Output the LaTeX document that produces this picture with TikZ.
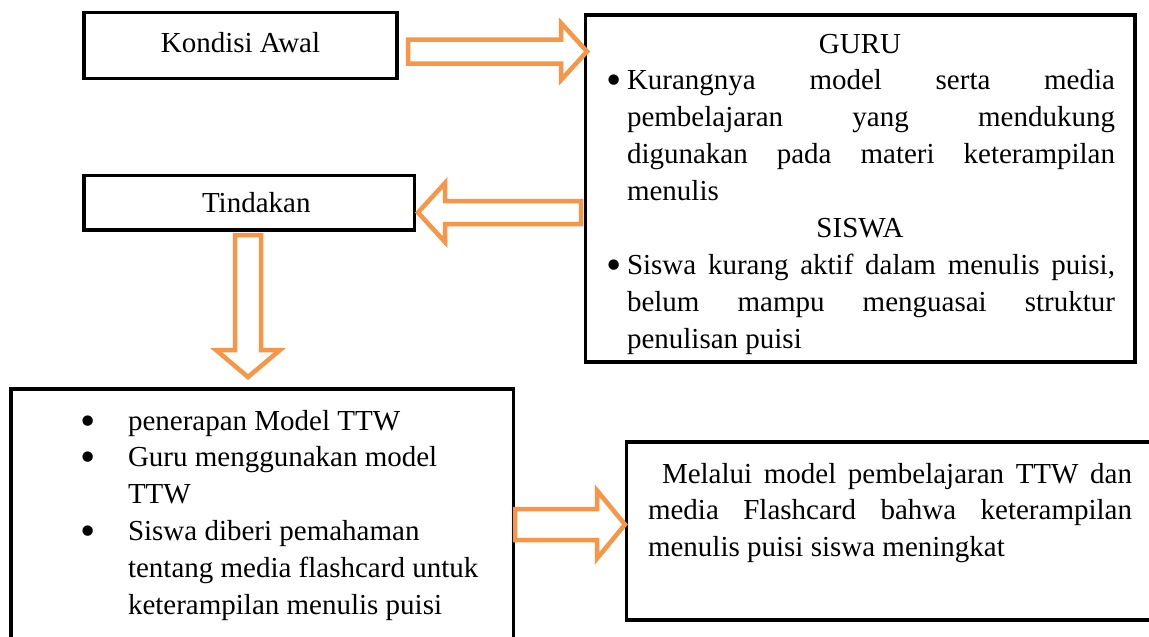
\documentclass[tikz,border=0pt]{standalone}
\usepackage{fontspec}
\setmainfont{Liberation Serif}
\usetikzlibrary{calc}
\definecolor{arroworange}{HTML}{F79646}
\newcommand\bigbul{\raisebox{-5pt}[0pt][0pt]{\scalebox{1.5}{\textbullet}}}
\tikzset{
  x=1pt, y=-1pt,
  box/.style={draw=black, line width=3.5pt, rectangle, inner sep=0pt, outer sep=0pt,
    anchor=north west, font=\fontsize{29}{36.9}\selectfont},
  txt/.style={inner sep=0pt, outer sep=0pt, anchor=north west, align=left,
    font=\fontsize{29}{36.9}\selectfont},
  barrow/.style={draw=arroworange, line width=4.5pt, fill=white, line join=miter, miter limit=10},
}
% block arrow: #1 tail, #2 tip, #3 shaft half width, #4 head half width, #5 head length
\newcommand\blockarrow[5]{%
  \path[barrow] let \p1=(#1), \p2=(#2),
      \n1={veclen(\x2-\x1,\y2-\y1)},
      \n2={(\x2-\x1)/\n1}, \n3={(\y2-\y1)/\n1}, \n4={\n1-#5pt} in
    ({\x1-#3pt*\n3},{\y1+#3pt*\n2})
    -- ({\x1+\n4*\n2-#3pt*\n3},{\y1+\n4*\n3+#3pt*\n2})
    -- ({\x1+\n4*\n2-#4pt*\n3},{\y1+\n4*\n3+#4pt*\n2})
    -- (\x2,\y2)
    -- ({\x1+\n4*\n2+#4pt*\n3},{\y1+\n4*\n3-#4pt*\n2})
    -- ({\x1+\n4*\n2+#3pt*\n3},{\y1+\n4*\n3-#3pt*\n2})
    -- ({\x1+#3pt*\n3},{\y1-#3pt*\n2})
    -- cycle;}
\begin{document}
\begin{tikzpicture}
\useasboundingbox (0,0) rectangle (1149,637);

% boxes
\node[box, minimum width=313pt, minimum height=66pt, text height=20pt, text depth=7pt]
  (kondisi) at (84,12.5) {Kondisi Awal};
\node[box, minimum width=330.5pt, minimum height=54.5pt, text height=21pt, text depth=1pt]
  (tindakan) at (84,175.5) {\hspace*{14pt}Tindakan};
\node[box, minimum width=549.5pt, minimum height=347pt] (guru) at (585.5,15) {};
\node[box, minimum width=502.5pt, minimum height=300pt] (aksi) at (11,389) {};
\node[box, minimum width=540pt, minimum height=178pt] (hasil) at (626.5,442) {};

% texts of the large boxes
\node[txt] (gurutext) at (603,28) {%
  \makebox[514pt][c]{\rule{0pt}{25pt}GURU}\\
  \makebox[24pt][l]{\hspace{3pt}\bigbul}\makebox[488pt][s]{Kurangnya model serta media}\\
  \hspace*{24pt}\makebox[488pt][s]{pembelajaran yang mendukung}\\
  \hspace*{24pt}\makebox[488pt][s]{digunakan pada materi keterampilan}\\
  \hspace*{24pt}menulis\\
  \makebox[514pt][c]{SISWA}\\
  \makebox[24pt][l]{\hspace{3pt}\bigbul}\makebox[488pt][s]{Siswa kurang aktif dalam menulis puisi,}\\
  \hspace*{24pt}\makebox[488pt][s]{belum mampu menguasai struktur}\\
  \hspace*{24pt}penulisan puisi};

\node[txt] (aksitext) at (80,405) {%
  \makebox[48pt][l]{\rule{0pt}{25pt}\bigbul}penerapan Model TTW\\
  \makebox[48pt][l]{\bigbul}Guru menggunakan model\\
  \hspace*{48pt}TTW\\
  \makebox[48pt][l]{\bigbul}Siswa diberi pemahaman\\
  \hspace*{48pt}tentang media flashcard untuk\\
  \hspace*{48pt}keterampilan menulis puisi};

\node[txt] (hasiltext) at (648,458) {%
  \makebox[484pt][s]{\rule{0pt}{25pt}\hspace*{14pt}Melalui model pembelajaran TTW dan}\\
  \makebox[484pt][s]{media Flashcard bahwa keterampilan}\\
  menulis puisi siswa meningkat};

% arrow ends
\coordinate (a1s) at (408,51.5);  \coordinate (a1e) at (587,51.5);
\coordinate (a2s) at (581,212.5); \coordinate (a2e) at (418,212.5);
\coordinate (a3s) at (248,235);   \coordinate (a3e) at (248,377);
\coordinate (a4s) at (515,524.5); \coordinate (a4e) at (625,524.5);

\blockarrow{a1s}{a1e}{12}{28.5}{26}
\blockarrow{a2s}{a2e}{11.5}{29.5}{27}
\blockarrow{a3s}{a3e}{13}{32}{27}
\blockarrow{a4s}{a4e}{15.5}{34}{28}
\end{tikzpicture}
\end{document}
